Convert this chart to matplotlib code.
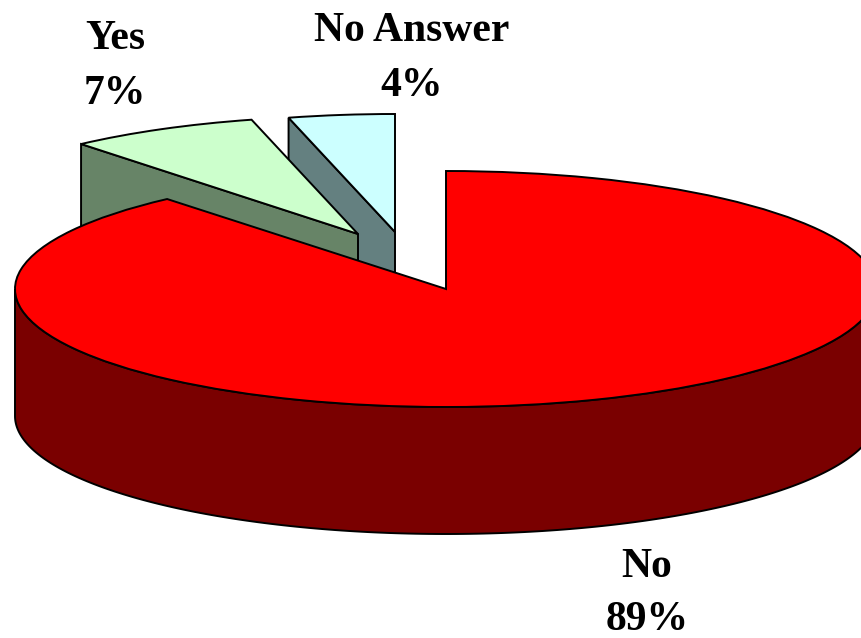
import numpy as np
import matplotlib
matplotlib.use('Agg')
import matplotlib.pyplot as plt
from matplotlib.patches import Wedge, Polygon
from matplotlib.transforms import Affine2D

# Slice shares (labels round them)
labels = ['No', 'Yes', 'No Answer']
shares = [88.8, 7.2, 4.0]

top_colors = ['#FF0000', '#CCFFCC', '#CCFFFF']
side_colors = ['#7A0000', '#678467', '#648080']

# Geometry in picture pixels
cx, cy = 446, 289
rx, ry = 431, 118
rx_back = 428  # the pulled out slices sit further back, so a bit narrower
depth = 127
tips = [(446, 289), (358, 234), (395, 232)]
label_pos = [(647, 577, 630), (115, 49, 104), (412, 41, 96)]

plt.rcParams['font.family'] = ['Liberation Serif', 'DejaVu Serif']

fig = plt.figure(figsize=(8.62, 6.38), dpi=100)
ax = fig.add_axes([0, 0, 1, 1])
ax.set_xlim(0, 862)
ax.set_ylim(638, 0)
ax.axis('off')


def rim(tip, angle, r):
    # point on the ellipse for a pie angle (y goes down on this axes)
    a = np.radians(angle)
    return tip[0] + r * np.cos(a), tip[1] - ry * np.sin(a)


def draw_top(tip, a1, a2, r, color, zorder):
    trans = Affine2D().scale(r, -ry).translate(*tip) + ax.transData
    ax.add_patch(Wedge((0, 0), 1, a1, a2, facecolor=color, edgecolor='black',
                       linewidth=1.4, joinstyle='miter', transform=trans, zorder=zorder))


def draw_cut(tip, angle, r, color, zorder):
    # flat wall showing where a slice has been cut
    x, y = rim(tip, angle, r)
    pts = [tip, (x, y), (x, y + depth), (tip[0], tip[1] + depth)]
    ax.add_patch(Polygon(pts, closed=True, facecolor=color, edgecolor='black',
                         linewidth=1.4, zorder=zorder))


# slices run clockwise from 12 o'clock
ends = 90 - np.cumsum([0] + shares) * 3.6
a_no_end, a_yes_end = ends[1] + 360, ends[2] + 360

# No Answer
draw_cut(tips[2], a_yes_end, rx_back, side_colors[2], 1)
draw_top(tips[2], 90, a_yes_end, rx_back, top_colors[2], 2)

# Yes
draw_cut(tips[1], a_no_end, rx_back, side_colors[1], 3)
draw_top(tips[1], a_yes_end, a_no_end, rx_back, top_colors[1], 4)

# No: front wall, then the top face
arc = np.radians(np.linspace(180, 360, 200))
xs = cx + rx * np.cos(arc)
ys = cy - ry * np.sin(arc)
wall = np.vstack([np.column_stack([xs, ys]), np.column_stack([xs, ys + depth])[::-1]])
ax.add_patch(Polygon(wall, closed=True, facecolor=side_colors[0], edgecolor='black',
                     linewidth=1.4, zorder=5))
draw_top(tips[0], a_no_end, 90 + 360, rx, top_colors[0], 6)

for name, share, (x, y1, y2) in zip(labels, shares, label_pos):
    ax.text(x, y1, name, ha='center', va='baseline', fontsize=30, fontweight='bold', zorder=7)
    ax.text(x, y2, '{}%'.format(round(share)), ha='center', va='baseline', fontsize=30,
            fontweight='bold', zorder=7)

fig.savefig('out.png', dpi=100)
